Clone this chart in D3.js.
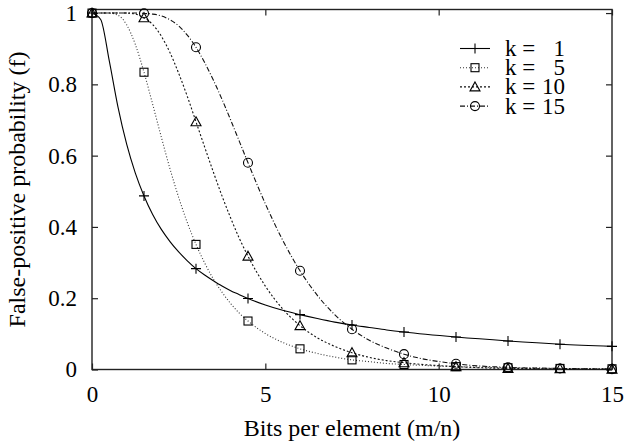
<!DOCTYPE html>
<html>
<head>
<meta charset="utf-8">
<script src="https://cdn.jsdelivr.net/npm/d3@7"></script>
<style>
  body { margin: 0; background: #fff; }
  text { font-family: "Liberation Serif", "DejaVu Serif", serif; fill: #000; }
</style>
</head>
<body>
<svg></svg>
<script>
// bits per element (m/n) where the curves were read
let bits = [0, 0.25, 0.5, 0.75, 1, 1.25, 1.5, 1.75, 2, 2.25, 2.5, 2.75, 3, 3.25, 3.5, 3.75, 4, 4.25, 4.5,
  5, 5.5, 6, 6.5, 7, 7.5, 8, 8.5, 9, 10.5, 12, 13.5, 15]

let k1 = [1, 0.982, 0.865, 0.736, 0.632, 0.551, 0.487, 0.435, 0.393, 0.359, 0.330, 0.305, 0.283, 0.265, 0.249, 0.234, 0.221, 0.210, 0.199,
  0.181, 0.166, 0.154, 0.143, 0.133, 0.125, 0.118, 0.111, 0.105, 0.091, 0.080, 0.071, 0.065]
let k5 = [1, 1, 1, 0.994, 0.967, 0.912, 0.834, 0.744, 0.652, 0.563, 0.483, 0.412, 0.351, 0.299, 0.254, 0.217, 0.185, 0.158, 0.136,
  0.101, 0.076, 0.058, 0.045, 0.035, 0.027, 0.022, 0.017, 0.014, 0.008, 0.005, 0.003, 0.002]
let k10 = [1, 1, 1, 1, 1, 0.997, 0.987, 0.968, 0.935, 0.889, 0.831, 0.766, 0.695, 0.624, 0.554, 0.487, 0.425, 0.368, 0.318,
  0.234, 0.170, 0.123, 0.089, 0.065, 0.047, 0.034, 0.025, 0.019, 0.008, 0.003, 0.002, 0.001]
let k15 = [1, 1, 1, 1, 1, 1, 0.999, 0.997, 0.992, 0.981, 0.964, 0.938, 0.904, 0.861, 0.812, 0.758, 0.700, 0.640, 0.580,
  0.465, 0.363, 0.277, 0.208, 0.154, 0.113, 0.082, 0.060, 0.043, 0.016, 0.006, 0.003, 0.001]

// points that carry a marker
let markerBits = [0, 1.5, 3, 4.5, 6, 7.5, 9, 10.5, 12, 13.5, 15]

let xTicks = [0, 5, 10, 15]
let yTicks = [0, 0.2, 0.4, 0.6, 0.8, 1]
let yTickLabels = ['0', '0.2', '0.4', '0.6', '0.8', '1']

let series = [
  { name: 'k =', num: '1', values: k1, dash: null, marker: 'plus', color: '#000' },
  { name: 'k =', num: '5', values: k5, dash: '1,2', marker: 'square', color: '#333' },
  { name: 'k =', num: '10', values: k10, dash: '2,2', marker: 'triangle', color: '#111' },
  { name: 'k =', num: '15', values: k15, dash: '5,2,1,2', marker: 'circle', color: '#111' },
]

let tickFont = '23px'
let titleFont = '24px'

let svgWidth = 626
let svgHeight = 445
let margin = { top: 9.5, right: 14, bottom: 75.5, left: 92 }
let width = svgWidth - margin.left - margin.right
let height = svgHeight - margin.top - margin.bottom

let svg = d3.select('svg')
  .attr('width', svgWidth)
  .attr('height', svgHeight)

let g = svg.append('g')
  .attr('transform', `translate(${margin.left}, ${margin.top})`)

let x = d3.scaleLinear().domain([0, 15]).range([0, width])
let y = d3.scaleLinear().domain([0, 1.01]).range([height, 0])

// frame
g.append('rect')
  .attr('width', width)
  .attr('height', height)
  .attr('fill', 'none')
  .attr('stroke', '#222')
  .attr('stroke-width', 1.4)

// ticks, pointing inward, mirrored on top and right
let tickLen = 6
let yAxisL = g.append('g').call(d3.axisLeft(y).tickValues(yTicks).tickSizeInner(-tickLen).tickSizeOuter(0)
  .tickFormat((d, i) => yTickLabels[i]).tickPadding(15))
let yAxisR = g.append('g').attr('transform', `translate(${width},0)`)
  .call(d3.axisRight(y).tickValues(yTicks).tickSizeInner(-tickLen).tickSizeOuter(0).tickFormat(''))
let xAxisB = g.append('g').attr('transform', `translate(0,${height})`)
  .call(d3.axisBottom(x).tickValues(xTicks).tickSizeInner(-tickLen).tickSizeOuter(0).tickPadding(16))
let xAxisT = g.append('g')
  .call(d3.axisTop(x).tickValues(xTicks).tickSizeInner(-tickLen).tickSizeOuter(0).tickFormat(''))

;[yAxisL, yAxisR, xAxisB, xAxisT].forEach((a) => {
  a.select('.domain').remove()
  a.selectAll('line').attr('stroke', '#222').attr('stroke-width', 1.2)
  a.selectAll('text').style('font-size', tickFont).attr('font-family', null)
})

// axis titles
svg.append('text')
  .attr('x', margin.left + width / 2)
  .attr('y', 436)
  .attr('text-anchor', 'middle')
  .style('font-size', titleFont)
  .text('Bits per element (m/n)')

svg.append('text')
  .attr('transform', `translate(25, ${margin.top + height / 2}) rotate(-90)`)
  .attr('text-anchor', 'middle')
  .style('font-size', titleFont)
  .text('False-positive probability (f)')

let line = d3.line()
  .x((d) => x(d[0]))
  .y((d) => y(d[1]))
  .curve(d3.curveMonotoneX)

function drawMarker (sel, type, cx, cy) {
  if (type === 'plus') {
    sel.append('path').attr('d', `M${cx - 5},${cy}H${cx + 5}M${cx},${cy - 5}V${cy + 5}`)
      .attr('stroke', '#000').attr('stroke-width', 1.1).attr('fill', 'none')
  } else if (type === 'square') {
    sel.append('rect').attr('x', cx - 4).attr('y', cy - 4).attr('width', 8).attr('height', 8)
      .attr('stroke', '#000').attr('stroke-width', 1.1).attr('fill', 'none')
  } else if (type === 'triangle') {
    sel.append('path').attr('d', `M${cx},${cy - 5}L${cx + 5},${cy + 4}L${cx - 5},${cy + 4}Z`)
      .attr('stroke', '#000').attr('stroke-width', 1.1).attr('fill', 'none')
  } else {
    sel.append('circle').attr('cx', cx).attr('cy', cy).attr('r', 4.5)
      .attr('stroke', '#000').attr('stroke-width', 1.1).attr('fill', 'none')
  }
}

series.forEach((s) => {
  let pts = bits.map((b, i) => [b, s.values[i]])
  g.append('path')
    .datum(pts)
    .attr('d', line)
    .attr('fill', 'none')
    .attr('stroke', s.color)
    .attr('stroke-width', 1.1)
    .attr('stroke-dasharray', s.dash)
  let mg = g.append('g')
  pts.filter((p) => markerBits.includes(p[0])).forEach((p) => {
    drawMarker(mg, s.marker, x(p[0]), y(p[1]))
  })
})

// legend
let legend = svg.append('g')
series.forEach((s, i) => {
  let ly = 48.5 + i * 19.2
  legend.append('line')
    .attr('x1', 460).attr('x2', 490)
    .attr('y1', ly).attr('y2', ly)
    .attr('stroke', s.color)
    .attr('stroke-width', 1.1)
    .attr('stroke-dasharray', s.dash)
  drawMarker(legend, s.marker, 475, ly)
  legend.append('text')
    .attr('x', 505).attr('y', ly + 7.5)
    .style('font-size', tickFont)
    .text(s.name)
  legend.append('text')
    .attr('x', 565).attr('y', ly + 7.5)
    .attr('text-anchor', 'end')
    .style('font-size', tickFont)
    .text(s.num)
})
</script>
</body>
</html>
